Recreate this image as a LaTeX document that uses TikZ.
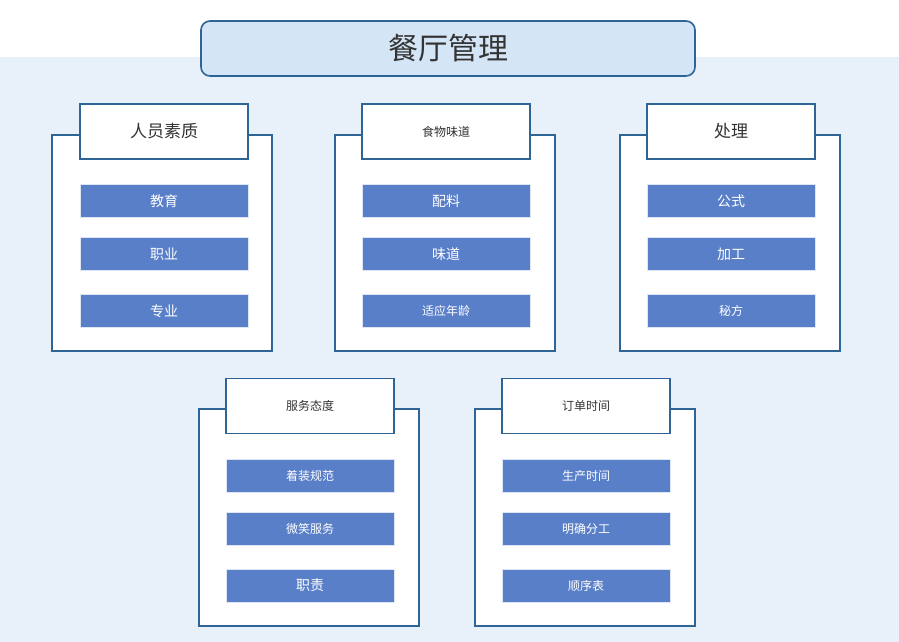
\documentclass[tikz,border=0pt]{standalone}
\usepackage{fontspec}
\setmainfont{Noto Sans CJK SC}
\definecolor{bgblue}{HTML}{E8F1FA}
\definecolor{edge}{HTML}{2F6497}
\definecolor{titlefill}{HTML}{D4E5F6}
\definecolor{itemfill}{HTML}{5A7FC9}
\definecolor{txt}{HTML}{333333}
\tikzset{
  titlebox/.style={draw=edge,line width=1.6pt,fill=titlefill,rounded corners=9pt,minimum width=494pt,minimum height=55pt,inner sep=0pt,text=txt,font=\fontsize{30}{32}\selectfont},
  outerbox/.style={draw=edge,line width=1.6pt,fill=white,inner sep=0pt},
  headbox/.style={draw=edge,line width=1.6pt,fill=white,minimum width=168pt,minimum height=55pt,inner sep=0pt,text=txt},
  itembox/.style={draw=white!80!itemfill,line width=0.5pt,fill=itemfill,minimum width=168pt,minimum height=33pt,inner sep=0pt,text=white},
  big/.style={font=\fontsize{17}{19}\selectfont},
  small/.style={font=\fontsize{12}{14}\selectfont},
  mid/.style={font=\fontsize{14}{16}\selectfont},
}
\begin{document}
\begin{tikzpicture}[x=1pt,y=-1pt]
\fill[white] (0,0) rectangle (899,642);
\fill[bgblue] (0,57) rectangle (899,642);
\useasboundingbox (0,0) rectangle (899,642);
\node[titlebox] (title) at (448,48.5) {餐厅管理};
% group 1
\node[outerbox,minimum width=220pt,minimum height=216pt] (o1) at (162,243) {};
\node[headbox,big] (h1) at (164,131.5) {人员素质};
\node[itembox,mid] (a1) at (164,201) {教育};
\node[itembox,mid] (b1) at (164,254) {职业};
\node[itembox,mid] (c1) at (164,311) {专业};
% group 2
\node[outerbox,minimum width=220pt,minimum height=216pt] (o2) at (445,243) {};
\node[headbox,small] (h2) at (446,131.5) {食物味道};
\node[itembox,mid] (a2) at (446,201) {配料};
\node[itembox,mid] (b2) at (446,254) {味道};
\node[itembox,small] (c2) at (446,311) {适应年龄};
% group 3
\node[outerbox,minimum width=220pt,minimum height=216pt] (o3) at (730,243) {};
\node[headbox,big] (h3) at (731,131.5) {处理};
\node[itembox,mid] (a3) at (731,201) {公式};
\node[itembox,mid] (b3) at (731,254) {加工};
\node[itembox,small] (c3) at (731,311) {秘方};
% group 4
\node[outerbox,minimum width=220pt,minimum height=217pt] (o4) at (309,517.5) {};
\node[headbox,small] (h4) at (310,406) {服务态度};
\node[itembox,small] (a4) at (310,475.5) {着装规范};
\node[itembox,small] (b4) at (310,528.5) {微笑服务};
\node[itembox,mid] (c4) at (310,585.5) {职责};
% group 5
\node[outerbox,minimum width=220pt,minimum height=217pt] (o5) at (585,517.5) {};
\node[headbox,small] (h5) at (586,406) {订单时间};
\node[itembox,small] (a5) at (586,475.5) {生产时间};
\node[itembox,small] (b5) at (586,528.5) {明确分工};
\node[itembox,small] (c5) at (586,585.5) {顺序表};
\end{tikzpicture}
\end{document}
